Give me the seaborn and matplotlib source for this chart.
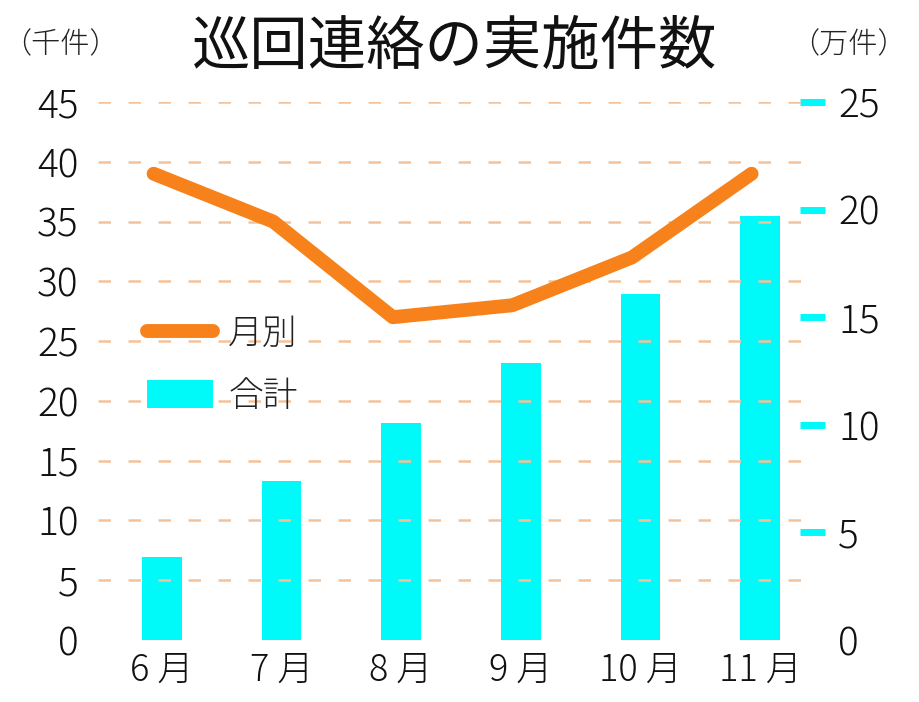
import matplotlib
matplotlib.use("Agg")
import matplotlib.pyplot as plt
import seaborn as sns
import pandas as pd
import numpy as np
from matplotlib.lines import Line2D
from matplotlib.patches import Patch

months = ["6 月", "7 月", "8 月", "9 月", "10 月", "11 月"]
monthly = [39.0, 35.0, 27.0, 28.0, 32.0, 39.0]      # 千件 (left axis)
cumulative = [3.87, 7.39, 10.07, 12.87, 16.08, 19.7]  # 万件 (right axis)
left_ticks = [0, 5, 10, 15, 20, 25, 30, 35, 40, 45]
right_ticks = [0, 5, 10, 15, 20, 25]

sns.set_theme(style="white")
plt.rcParams['font.family'] = ['Noto Sans CJK JP', 'DejaVu Sans']

ORANGE = "#f7821b"
CYAN = "#00f9f9"
GRID = "#f4c29a"

df = pd.DataFrame({"month": months, "monthly": monthly, "cumulative": cumulative})

fig = plt.figure(figsize=(9.19, 7.02), dpi=100)
ax = fig.add_axes([98/919, 1-640/702, (812-98)/919, (640-102)/702])
ax2 = ax.twinx()

# bars on the right axis
sns.barplot(data=df, x="month", y="cumulative", ax=ax2, color=CYAN,
            width=0.33, saturation=1, edgecolor="none")
ax2.set_ylim(0, 25)
ax2.set_yticks(right_ticks)
ax2.set_yticklabels([str(t) for t in right_ticks], fontsize=28, color="#111111",
                    fontweight="light")
ax2.tick_params(axis="y", direction="inout", length=18, width=5, color=CYAN, pad=10)
ax2.yaxis.get_major_ticks()[0].tick2line.set_visible(False)
ax2.set_ylabel("")

# line on the left axis
xs = np.arange(len(months)) - 0.07
sns.lineplot(x=xs, y=df["monthly"], ax=ax, color=ORANGE, linewidth=10,
             solid_capstyle="round", solid_joinstyle="round", zorder=5)
ax.set_ylim(0, 45)
ax.set_yticks(left_ticks)
ax.set_yticklabels([str(t) for t in left_ticks], fontsize=28, color="#111111",
                   fontweight="light")
ax.tick_params(axis="y", length=0, pad=14)
ax.set_xticks(range(len(months)))
ax.set_xticklabels(months, fontsize=26, color="#111111", fontweight="light")
ax.tick_params(axis="x", length=0, pad=8)
ax.set_xlim(-0.535, 5.435)
ax2.set_xlim(-0.535, 5.435)
ax.set_ylabel("")
ax.set_xlabel("")
ax2.set_xlabel("")

for t in left_ticks[1:]:
    ax.axhline(t, color=GRID, linestyle=(0, (5, 7)), linewidth=1.8, zorder=0)

for a in (ax, ax2):
    for s in a.spines.values():
        s.set_visible(False)

# keep line above bars
ax.set_zorder(ax2.get_zorder() + 1)
ax.patch.set_visible(False)

handles = [Line2D([0], [0], color=ORANGE, linewidth=10, solid_capstyle="round"),
           Patch(facecolor=CYAN, edgecolor="none")]
leg = ax.legend(handles, ["月別", "合計"], loc="upper left",
                bbox_to_anchor=(0.068, 0.602), frameon=False, fontsize=25,
                handlelength=1.9, handleheight=0.85, labelspacing=0.75,
                handletextpad=0.45, borderpad=0, borderaxespad=0)
for txt in leg.get_texts():
    txt.set_color("#222222")
    txt.set_fontweight("light")

fig.text(455/919, 1-47/702, "巡回連絡の実施件数", ha="center", va="center",
         fontsize=42, fontweight="normal", color="#111111")
fig.text(60/919, 1-45/702, "（千件）", ha="center", va="center", fontsize=21,
         color="#222222", fontweight="light")
fig.text(848/919, 1-45/702, "（万件）", ha="center", va="center", fontsize=21,
         color="#222222", fontweight="light")

fig.savefig("out.png", dpi=100)
